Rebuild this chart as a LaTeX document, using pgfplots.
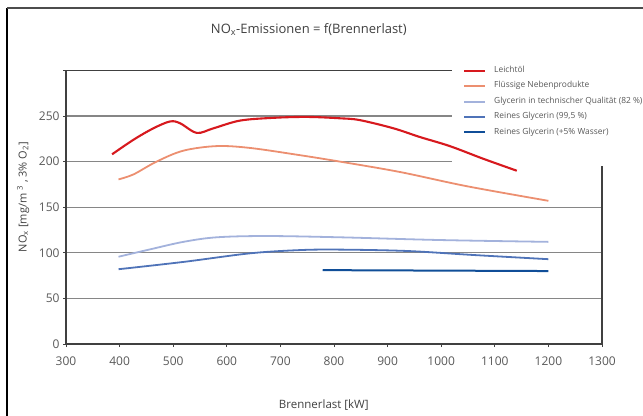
\documentclass[border=0pt]{standalone}
\usepackage{pgfplots}
\pgfplotsset{compat=1.18}
\usepackage{fontspec}
\setmainfont{Open Sans}
\definecolor{cred}{RGB}{215,25,30}
\definecolor{corange}{RGB}{236,143,112}
\definecolor{clight}{RGB}{163,178,220}
\definecolor{cmid}{RGB}{79,115,184}
\definecolor{cdark}{RGB}{16,78,152}
\definecolor{axiscol}{RGB}{64,64,64}
\definecolor{gridcol}{RGB}{134,134,134}
\definecolor{txtcol}{RGB}{89,89,89}
\begin{document}
\begin{tikzpicture}
\path[use as bounding box] (0bp,0bp) rectangle (643bp,-416bp);
\draw[black,line width=1.3bp] (7bp,-8bp) -- (7bp,-416bp);
\draw[gray!60!black,line width=1.5bp] (7bp,-8bp) -- (643bp,-8bp);
\begin{axis}[
  at={(66bp,-344bp)}, anchor=south west,
  scale only axis, width=536bp, height=273.6bp,
  xmin=300, xmax=1300, ymin=0, ymax=300,
  clip=false,
  xtick={300,400,...,1300},
  ytick={0,50,...,300},
  yticklabels={0,50,100,150,200,250,{}},
  xtick pos=bottom, ytick pos=left,
  tick align=outside, major tick length=3bp,
  tick style={axiscol, line width=0.8bp},
  axis line style={axiscol, line width=1.1bp},
  ymajorgrids, grid style={gridcol, line width=1.2bp},
  /pgf/number format/assume math mode=true,
  /pgf/number format/1000 sep={},
  ticklabel style={font=\fontsize{12bp}{14bp}\selectfont, text=txtcol},
  xticklabel style={yshift=-6bp},
  title={NO\textsubscript{x}-Emissionen = f(Brennerlast)},
  title style={at={(axis description cs:0.453,1.128)}, anchor=center, font=\fontsize{13bp}{15bp}\selectfont, text=axiscol},
  xlabel={Brennerlast [kW]},
  xlabel style={at={(axis description cs:0.481,-0.223)}, anchor=center, font=\fontsize{11.5bp}{13bp}\selectfont, text=axiscol},
  ylabel={NO\textsubscript{x} [mg/m \textsuperscript{3} , 3\% O\textsubscript{2}]},
  ylabel style={at={(axis description cs:-0.080,0.537)}, anchor=center, font=\fontsize{11bp}{13bp}\selectfont, text=axiscol},
  legend style={at={(rel axis cs:0.72,1.033)}, anchor=north west, fill=none, draw=none,
    inner xsep=11bp, inner ysep=6bp, row sep=8.9bp, column sep=8bp,
    nodes={inner sep=0pt, text height=5bp, text depth=1.5bp, anchor=west},
    font=\fontsize{8.4bp}{9bp}\selectfont, text=txtcol},
  legend cell align=left,
  legend image code/.code={\draw[#1] (0bp,0bp) -- (21bp,0bp);},
  every axis plot/.append style={smooth, tension=0.55, line width=1.8bp},
]
\fill[white] (axis cs:1020,309.5) rectangle (axis cs:1356,195.2);
\addplot[cred, line width=2.1bp] coordinates {(386,208)(426,224)(463,236.5)(494,244)(513,242)(544,231.5)(575,236.5)(625,245)(687,248)(750,249)(811,247.5)(848,245.5)(911,236.5)(960,227)(1016,217)(1079,203)(1141,190)};
\addlegendentry{Leichtöl}
\addplot[corange] coordinates {(398,180.5)(426,186)(469,200)(519,212)(581,217)(643,215)(737,207)(811,200)(923,188.6)(1048,173)(1200,157)};
\addlegendentry{Flüssige Nebenprodukte}
\addplot[clight] coordinates {(398,95.7)(457,103.8)(519,112)(581,117)(674,118.4)(811,117)(998,114)(1200,112)};
\addlegendentry{Glycerin in technischer Qualität (82 \%)}
\addplot[cmid] coordinates {(398,82)(519,90)(643,99.4)(737,103)(811,103.5)(936,102)(1060,97.6)(1200,93)};
\addlegendentry{Reines Glycerin (99,5 \%)}
\addplot[cdark, line width=2bp] coordinates {(779,81)(1200,80)};
\addlegendentry{Reines Glycerin (+5\% Wasser)}
\end{axis}
\end{tikzpicture}
\end{document}
